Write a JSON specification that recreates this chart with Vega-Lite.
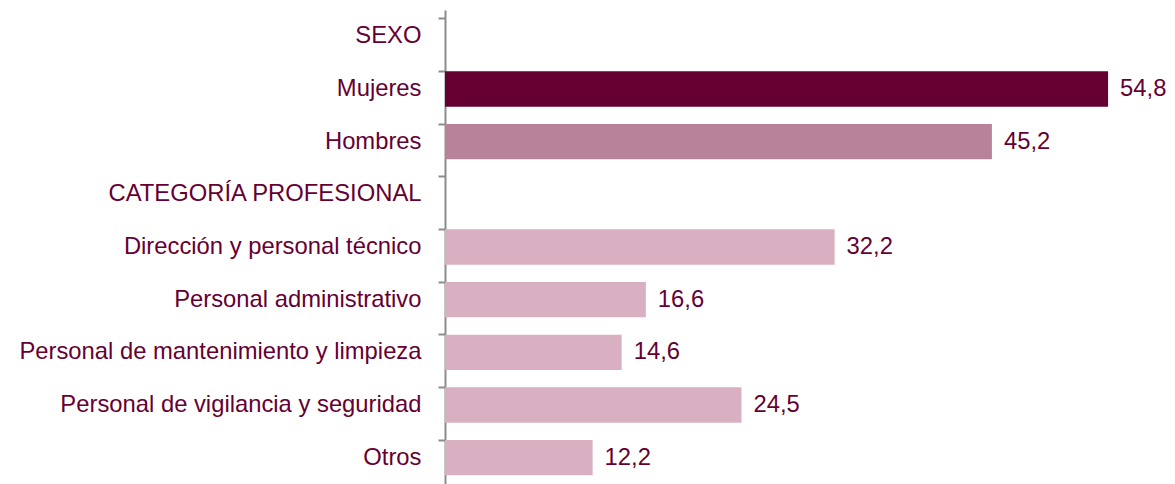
{
  "$schema": "https://vega.github.io/schema/vega-lite/v6.json",
  "width": 726,
  "height": 474,
  "autosize": {"type": "none"},
  "padding": {"left": 445, "top": 10, "right": 4, "bottom": 0},
  "config": {
    "view": {"stroke": null},
    "locale": {"number": {"decimal": ",", "thousands": ".", "grouping": [3], "currency": ["", " €"]}},
    "font": "Liberation Sans"
  },
  "data": {
    "values": [
      {"categoria": "SEXO", "grupo": "cabecera", "valor": null},
      {"categoria": "Mujeres", "grupo": "Mujeres", "valor": 54.8},
      {"categoria": "Hombres", "grupo": "Hombres", "valor": 45.2},
      {"categoria": "CATEGORÍA PROFESIONAL", "grupo": "cabecera", "valor": null},
      {"categoria": "Dirección y personal técnico", "grupo": "Categoría", "valor": 32.2},
      {"categoria": "Personal administrativo", "grupo": "Categoría", "valor": 16.6},
      {"categoria": "Personal de mantenimiento y limpieza", "grupo": "Categoría", "valor": 14.6},
      {"categoria": "Personal de vigilancia y seguridad", "grupo": "Categoría", "valor": 24.5},
      {"categoria": "Otros", "grupo": "Categoría", "valor": 12.2}
    ]
  },
  "encoding": {
    "y": {
      "field": "categoria",
      "type": "nominal",
      "sort": null,
      "scale": {
        "domain": ["SEXO", "Mujeres", "Hombres", "CATEGORÍA PROFESIONAL", "Dirección y personal técnico", "Personal administrativo", "Personal de mantenimiento y limpieza", "Personal de vigilancia y seguridad", "Otros"],
        "paddingInner": 0.33, "paddingOuter": 0.165
      },
      "axis": {
        "title": null,
        "bandPosition": 0,
        "labelFontSize": 23.8,
        "labelColor": "#660033",
        "labelPadding": 17,
        "labelLimit": 500,
        "tickSize": 7,
        "tickColor": "#8c8c8c",
        "tickWidth": 2,
        "domainColor": "#8c8c8c",
        "domainWidth": 2
      }
    },
    "x": {
      "field": "valor",
      "type": "quantitative",
      "scale": {"domain": [0, 60]},
      "axis": null
    }
  },
  "layer": [
    {
      "transform": [{"filter": "datum.valor != null"}],
      "mark": {"type": "bar"},
      "encoding": {
        "color": {
          "field": "grupo",
          "type": "nominal",
          "scale": {"domain": ["Mujeres", "Hombres", "Categoría"], "range": ["#660033", "#b8829b", "#d8b0c2"]},
          "legend": null
        }
      }
    },
    {
      "transform": [{"filter": "datum.valor != null"}],
      "mark": {"type": "text", "align": "left", "dx": 12, "fontSize": 23.8, "color": "#660033"},
      "encoding": {
        "text": {"field": "valor", "type": "quantitative", "format": ".1f"}
      }
    }
  ]
}
